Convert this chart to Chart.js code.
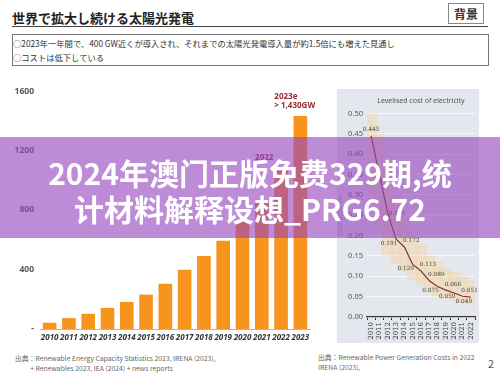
<!DOCTYPE html>
<html>
<head>
<meta charset="utf-8">
<script src="https://cdn.jsdelivr.net/npm/chart.js@4"></script>
<style>
  body { margin: 0; width: 500px; height: 377px; background: #fff; position: relative; overflow: hidden;
         font-family: "Noto Sans CJK JP", "Noto Sans", sans-serif; color: #333; }
  .abs { position: absolute; white-space: nowrap; }
  #title { left: 12px; top: 8px; font-size: 13px; font-weight: 700; color: #222; }
  #rule { left: 12px; top: 26px; width: 476px; height: 0; border-top: 1.5px solid #444; }
  #tag { left: 448px; top: 3px; width: 34px; height: 19px; border: 1px solid #888; font-size: 12px;
         font-weight: 700; text-align: center; line-height: 19px; color: #333; }
  #box { left: 12px; top: 34px; width: 475px; height: 30px; border: 1px solid #777; }
  .note { font-size: 8.3px; color: #333; left: 13px; }
  .src { font-size: 6.8px; color: #666; line-height: 10px; }
  #overlay { left: 0; top: 137px; width: 500px; height: 101px; background: rgba(150, 70, 190, 0.62); }
  .big { left: 0; width: 500px; text-align: center; color: #fff; font-weight: 700; font-size: 30px;
         font-family: "Noto Sans CJK SC", sans-serif; line-height: 36px; }
</style>
</head>
<body>
<div class="abs" id="title">世界で拡大し続ける太陽光発電</div>
<div class="abs" id="rule"></div>
<div class="abs" id="tag">背景</div>
<div class="abs" id="box"></div>
<div class="abs note" style="top:37px">○2023年一年間で、400 GW近くが導入され、それまでの太陽光発電導入量が約1.5倍にも増えた見通し</div>
<div class="abs note" style="top:51px">○コストは低下している</div>

<canvas id="capacityChart" class="abs" width="305" height="265" style="left:10px; top:80px;"></canvas>
<div class="abs" style="left:337px; top:89px; width:142px; height:254px; background:#e4e7ed;"></div>
<canvas id="lcoeChart" class="abs" width="142" height="254" style="left:337px; top:89px;"></canvas>

<div class="abs src" style="left:15px; top:353px;">出典：Renewable Energy Capacity Statistics 2023, IRENA (2023),<br>&nbsp;&nbsp;&nbsp;&nbsp;&nbsp;&nbsp;&nbsp;&nbsp;&nbsp;&nbsp;+ Renewables 2023, IEA (2024) + news reports</div>
<div class="abs src" style="left:318px; top:352px;">出典：Renewable Power Generation Costs in 2022<br>IRENA (2023),</div>
<div class="abs" style="left:488px; top:355px; font-size:11px; color:#555;">2</div>

<div class="abs" id="overlay"></div>
<div class="abs big" style="top:154px;">2024年澳门正版免费329期,统</div>
<div class="abs big" style="top:190px;">计材料解释设想_PRG6.72</div>

<script>
// Cumulative installed PV capacity (GW)
const years = ['2010', '2011', '2012', '2013', '2014', '2015', '2016', '2017', '2018', '2019', '2020', '2021', '2022', '2023'];
const capacity = [40, 71, 100, 140, 180, 229, 302, 396, 489, 591, 720, 850, 1080, 1430];
const barNotes = ['', '', '', '', '', '', '', '', '', '', '', '', '2022', '2023e|> 1,430GW'];

// Levelised cost of electricity (2022 USD/kWh)
const lcoeYears = ['2010', '2011', '2012', '2013', '2014', '2015', '2016', '2017', '2018', '2019', '2020', '2021', '2022'];
const lcoe = [0.445, 0.349, 0.255, 0.191, 0.172, 0.129, 0.113, 0.089, 0.075, 0.066, 0.059, 0.051, 0.049];
const lcoeLow = [0.30, 0.22, 0.15, 0.13, 0.11, 0.09, 0.08, 0.06, 0.05, 0.045, 0.04, 0.035, 0.03];
const lcoeHigh = [0.60, 0.45, 0.38, 0.30, 0.25, 0.21, 0.18, 0.15, 0.135, 0.12, 0.11, 0.10, 0.09];

Chart.defaults.font.family = "'Noto Sans', sans-serif";
Chart.defaults.animation = false;

// text above the last bars
const barNotePlugin = {
    id: 'barNotes',
    afterDatasetsDraw(chart) {
        const ctx = chart.ctx;
        const meta = chart.getDatasetMeta(0);
        ctx.save();
        ctx.fillStyle = 'rgb(150, 45, 45)';
        ctx.font = "bold 8px 'Noto Sans', sans-serif";
        ctx.textBaseline = 'alphabetic';
        meta.data.forEach((bar, i) => {
            if (!barNotes[i]) return;
            const lines = barNotes[i].split('|');
            lines.forEach((t, k) => {
                ctx.fillText(t, bar.x - 26, bar.y - 8 - (lines.length - 1 - k) * 9);
            });
        });
        ctx.restore();
    }
};

new Chart(document.getElementById('capacityChart'), {
    type: 'bar',
    data: {
        labels: years,
        datasets: [{
            data: capacity,
            backgroundColor: 'rgb(247, 148, 29)',
            barThickness: 13
        }]
    },
    options: {
        responsive: false,
        layout: { padding: { top: 9, right: 5, left: 0, bottom: 0 } },
        plugins: { legend: { display: false }, tooltip: { enabled: false } },
        scales: {
            x: {
                grid: { display: false, drawTicks: false },
                border: { display: true, color: '#b5b5b5' },
                ticks: {
                    color: '#333', padding: 4, autoSkip: false, maxRotation: 0, minRotation: 0,
                    font: { size: 8, weight: 'bold', style: 'italic' }
                },
                afterFit: (s) => { s.height = 16; }
            },
            y: {
                min: 0, max: 1600,
                grid: { display: false, drawTicks: false },
                border: { display: false },
                ticks: {
                    stepSize: 400, color: '#555', padding: 6,
                    font: { size: 8.5, weight: 'bold' },
                    callback: (v) => v === 0 ? '-' : v
                },
                afterFit: (s) => { s.width = 30; }
            }
        }
    },
    plugins: [barNotePlugin]
});

// value labels on the cost line, year labels reading upward
const labelSide = ['up', 'rdown', 'right', 'ldown', 'rup', 'ldown', 'rup', 'rup', 'ldown', 'rup', 'ldown', 'rup', 'ldown'];
const lcoeLabelPlugin = {
    id: 'lcoeLabels',
    afterDatasetsDraw(chart) {
        const ctx = chart.ctx;
        const meta = chart.getDatasetMeta(1);
        ctx.save();
        ctx.fillStyle = '#444';
        ctx.font = "5.8px 'DejaVu Serif', serif";
        ctx.textAlign = 'center';
        ctx.textBaseline = 'middle';
        meta.data.forEach((pt, i) => {
            let dx = 0, dy = 0;
            switch (labelSide[i]) {
                case 'up': dy = -6; break;
                case 'rup': dx = 7; dy = -6; break;
                case 'ldown': dx = -7; dy = 4; break;
                case 'rdown': dx = 7; dy = 6; break;
                case 'right': dx = 9; break;
            }
            ctx.fillText(lcoe[i].toFixed(3), pt.x + dx, pt.y + dy);
        });
        ctx.restore();
    },
    afterDraw(chart) {
        const ctx = chart.ctx;
        const xs = chart.scales.x;
        ctx.save();
        ctx.fillStyle = '#333';
        ctx.font = "7px 'DejaVu Serif', serif";
        ctx.textAlign = 'right';
        ctx.textBaseline = 'middle';
        chart.data.labels.forEach((lab, i) => {
            ctx.save();
            ctx.translate(xs.getPixelForTick(i), xs.top + 5);
            ctx.rotate(-Math.PI / 2);
            ctx.fillText(lab, 0, 0);
            ctx.restore();
        });
        ctx.restore();
    }
};

new Chart(document.getElementById('lcoeChart'), {
    data: {
        labels: lcoeYears,
        datasets: [{
            type: 'bar',
            data: lcoeLow.map((lo, i) => [lo, lcoeHigh[i]]),
            backgroundColor: 'rgba(245, 212, 160, 0.42)',
            barPercentage: 1,
            categoryPercentage: 1.4,
            order: 2
        }, {
            type: 'line',
            data: lcoe,
            borderColor: 'rgb(130, 55, 45)',
            borderWidth: 1.2,
            pointRadius: 0,
            tension: 0,
            order: 1
        }]
    },
    options: {
        responsive: false,
        layout: { padding: { top: 0, right: 4, left: 0, bottom: 0 } },
        plugins: {
            legend: { display: false },
            tooltip: { enabled: false },
            title: {
                display: true,
                fullSize: false,
                text: 'Levelised cost of electricity',
                color: '#555',
                font: { size: 7, weight: 'normal' },
                padding: { top: 8, bottom: 8 }
            }
        },
        scales: {
            x: {
                grid: { display: true, drawOnChartArea: false, color: '#333', tickLength: 3 },
                border: { display: true, color: '#333', width: 1.2 },
                ticks: { display: false },
                afterFit: (s) => { s.height = 26; }
            },
            y: {
                min: 0, max: 0.5,
                grid: { color: 'rgba(255, 255, 255, 0.75)', drawTicks: false },
                border: { display: false },
                title: { display: true, text: '2022 USD/kWh', color: '#999', font: { size: 6 }, padding: 0 },
                ticks: {
                    stepSize: 0.05, color: '#555', padding: 4,
                    font: { size: 7.5 },
                    callback: (v) => v.toFixed(2)
                },
                afterFit: (s) => { s.width = 30; }
            }
        }
    },
    plugins: [lcoeLabelPlugin]
});
</script>
</body>
</html>
